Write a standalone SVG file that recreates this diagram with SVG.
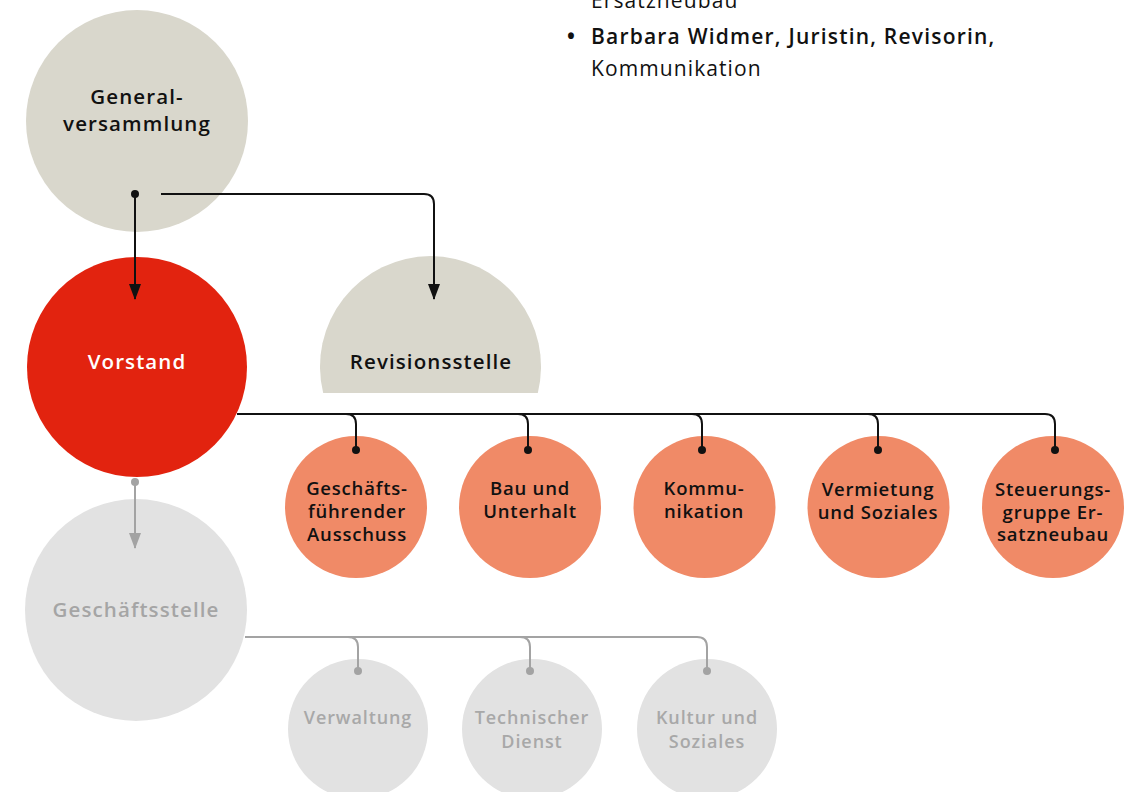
<svg xmlns="http://www.w3.org/2000/svg" width="1132" height="792" viewBox="0 0 1132 792">
<style>
text{font-family:"Open Sans","Liberation Sans",sans-serif;text-anchor:middle}
.big{font-size:20.5px;font-weight:600;letter-spacing:1.1px;fill:#111}
.sm{font-size:18.5px;font-weight:600;letter-spacing:0.8px;fill:#111}
.gsm{font-size:18px;font-weight:600;letter-spacing:0.9px;fill:#a8a8a8}
.side{font-size:21px;text-anchor:start;fill:#111;letter-spacing:1.1px}
.blk{fill:none;stroke:#111;stroke-width:2}
.gry{fill:none;stroke:#a3a3a3;stroke-width:2}
</style>
<defs>
<marker id="ab" viewBox="0 0 16 12" refX="15" refY="6" markerWidth="16" markerHeight="12" markerUnits="userSpaceOnUse" orient="auto"><path d="M0 0L16 6L0 12Z" fill="#111"/></marker>
<marker id="ag" viewBox="0 0 16 12" refX="15" refY="6" markerWidth="16" markerHeight="12" markerUnits="userSpaceOnUse" orient="auto"><path d="M0 0L16 6L0 12Z" fill="#a3a3a3"/></marker>
</defs>
<rect width="1132" height="792" fill="#fff"/>

<g id="sidetext">
<text class="side" x="591" y="8">Ersatzneubau</text>
<text class="side" x="567" y="44" style="font-weight:700">•</text>
<text class="side" x="591" y="44" style="font-weight:600;letter-spacing:1.2px">Barbara Widmer, Juristin, Revisorin,</text>
<text class="side" x="591" y="76">Kommunikation</text>
</g>

<g id="generalversammlung">
<circle cx="137" cy="121" r="111" fill="#d9d7cc"/>
<text class="big" x="137" y="104">General-</text>
<text class="big" x="137" y="131">versammlung</text>
</g>

<g id="vorstand">
<circle cx="137" cy="367" r="110" fill="#e2230f"/>
<text class="big" x="137" y="369" style="fill:#fff">Vorstand</text>
</g>

<g id="revisionsstelle">
<path d="M323.2 393A110.5 110.5 0 1 1 537.8 393Z" fill="#d9d7cc"/>
<text class="big" x="431" y="369">Revisionsstelle</text>
</g>

<g id="geschaeftsstelle">
<circle cx="136" cy="610" r="111" fill="#e2e2e2"/>
<text class="big" x="136" y="617" style="fill:#a5a5a5">Geschäftsstelle</text>
</g>

<g id="ausschuss">
<circle cx="356" cy="507" r="71" fill="#f08a67"/>
<text class="sm" x="357" y="495">Geschäfts-</text>
<text class="sm" x="357" y="518">führender</text>
<text class="sm" x="357" y="541">Ausschuss</text>
</g>
<g id="bau">
<circle cx="530" cy="507" r="71" fill="#f08a67"/>
<text class="sm" x="530" y="495">Bau und</text>
<text class="sm" x="530" y="518">Unterhalt</text>
</g>
<g id="kommunikation">
<circle cx="704.5" cy="507" r="71" fill="#f08a67"/>
<text class="sm" x="704" y="495">Kommu-</text>
<text class="sm" x="704" y="518">nikation</text>
</g>
<g id="vermietung">
<circle cx="878.5" cy="507" r="71" fill="#f08a67"/>
<text class="sm" x="878" y="496">Vermietung</text>
<text class="sm" x="878" y="519">und Soziales</text>
</g>
<g id="steuerungsgruppe">
<circle cx="1053" cy="507" r="71" fill="#f08a67"/>
<text class="sm" x="1053" y="496">Steuerungs-</text>
<text class="sm" x="1053" y="519">gruppe Er-</text>
<text class="sm" x="1053" y="541">satzneubau</text>
</g>

<g id="verwaltung">
<circle cx="358" cy="729" r="70" fill="#e2e2e2"/>
<text class="gsm" x="358" y="724">Verwaltung</text>
</g>
<g id="technischer-dienst">
<circle cx="532" cy="729" r="70" fill="#e2e2e2"/>
<text class="gsm" x="532" y="724">Technischer</text>
<text class="gsm" x="532" y="748">Dienst</text>
</g>
<g id="kultur">
<circle cx="707" cy="729" r="70" fill="#e2e2e2"/>
<text class="gsm" x="707" y="724">Kultur und</text>
<text class="gsm" x="707" y="748">Soziales</text>
</g>

<g id="connectors">
<circle cx="135" cy="194" r="4" fill="#111"/>
<path class="blk" d="M135 194V299" marker-end="url(#ab)"/>
<path class="blk" d="M161 194H424Q434 194 434 204V299" marker-end="url(#ab)"/>

<path class="blk" d="M237 414H1045Q1055 414 1055 424V450"/>
<path class="blk" d="M346 414Q356 414 356 424V450"/>
<path class="blk" d="M518 414Q528 414 528 424V450"/>
<path class="blk" d="M692 414Q702 414 702 424V450"/>
<path class="blk" d="M868 414Q878 414 878 424V450"/>
<circle cx="356" cy="450" r="4" fill="#111"/>
<circle cx="528" cy="450" r="4" fill="#111"/>
<circle cx="702" cy="450" r="4" fill="#111"/>
<circle cx="878" cy="450" r="4" fill="#111"/>
<circle cx="1055" cy="450" r="4" fill="#111"/>

<circle cx="135" cy="482" r="4" fill="#a3a3a3"/>
<path class="gry" d="M135 482V548" marker-end="url(#ag)"/>
<path class="gry" d="M245 637H697Q707 637 707 647V671"/>
<path class="gry" d="M348 637Q358 637 358 647V671"/>
<path class="gry" d="M520 637Q530 637 530 647V671"/>
<circle cx="358" cy="671" r="4" fill="#a3a3a3"/>
<circle cx="530" cy="671" r="4" fill="#a3a3a3"/>
<circle cx="707" cy="671" r="4" fill="#a3a3a3"/>
</g>
</svg>
